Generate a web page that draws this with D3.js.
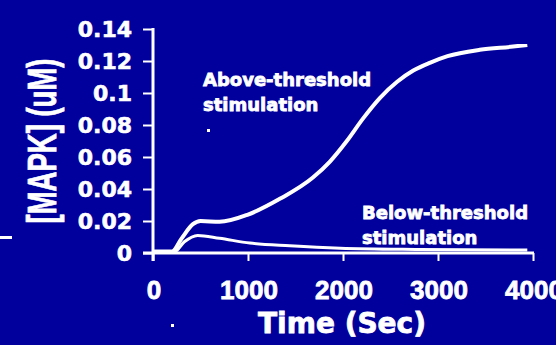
<!DOCTYPE html>
<html>
<head>
<meta charset="utf-8">
<script src="https://cdn.jsdelivr.net/npm/d3@7/dist/d3.min.js"></script>
<style>
  html, body { margin: 0; padding: 0; background: #02009C; }
  svg { display: block; }
</style>
</head>
<body>
<svg id="chart" width="556" height="345"></svg>
<script>
// ---- data ----
const aboveTime  = [0, 200, 300, 420, 500, 700, 1000, 1340, 1680, 1860, 2040, 2210, 2390, 2570, 2740, 2920, 3100, 3440, 3790, 3940];
const aboveValue = [0.001, 0.001, 0.009, 0.018, 0.0200, 0.0195, 0.024, 0.034, 0.047, 0.057, 0.070, 0.084, 0.097, 0.107, 0.114, 0.119, 0.123, 0.127, 0.129, 0.130];
const belowTime  = [0, 230, 330, 470, 700, 1020, 1440, 1970, 2800, 3940];
const belowValue = [0.001, 0.001, 0.007, 0.011, 0.0092, 0.0062, 0.0045, 0.003, 0.0022, 0.0018];
const xTicks = [0, 1000, 2000, 3000, 4000];
const yTicks = [0, 0.02, 0.04, 0.06, 0.08, 0.1, 0.12, 0.14];
const yTickLabels = ["0", "0.02", "0.04", "0.06", "0.08", "0.1", "0.12", "0.14"];
const xTitle = "Time (Sec)";
const yTitle = "[MAPK] (uM)";
const aboveLabel = ["Above-threshold", "stimulation"];
const belowLabel = ["Below-threshold", "stimulation"];

// ---- layout ----
const svg = d3.select("#chart");
const W = 556, H = 345;
svg.append("rect").attr("width", W).attr("height", H).attr("fill", "#02009C");

const x = d3.scaleLinear().domain([0, 4000]).range([153, 533]);
const y = d3.scaleLinear().domain([0, 0.14]).range([253, 29]);
const white = "#ffffff";

// axes lines
const xAxis = d3.axisBottom(x).tickValues(xTicks).tickSize(8).tickFormat("");
const gx = svg.append("g").attr("transform", `translate(0,${y(0)})`).call(xAxis);
gx.select(".domain").remove();
gx.selectAll(".tick line").attr("stroke", white).attr("stroke-width", 2);
svg.append("line").attr("x1", 143).attr("x2", x(4000) + 1).attr("y1", y(0)).attr("y2", y(0))
  .attr("stroke", white).attr("stroke-width", 3);

const yAxis = d3.axisLeft(y).tickValues(yTicks).tickSize(10).tickFormat("");
const gy = svg.append("g").attr("transform", `translate(${x(0)},0)`).call(yAxis);
gy.select(".domain").remove();
gy.selectAll(".tick line").attr("stroke", white).attr("stroke-width", 2);
svg.append("line").attr("x1", x(0)).attr("x2", x(0)).attr("y1", y(0.14) - 1).attr("y2", y(0) + 8)
  .attr("stroke", white).attr("stroke-width", 3);

// tick labels
svg.append("g").selectAll("text").data(yTicks).join("text")
  .attr("x", 132).attr("y", d => y(d) + 8)
  .attr("text-anchor", "end")
  .attr("font-family", "DejaVu Sans").attr("font-weight", "bold").attr("font-size", 22)
  .attr("fill", white).attr("stroke", white).attr("stroke-width", 0.6)
  .text((d, i) => yTickLabels[i]);

svg.append("g").selectAll("text").data(xTicks).join("text")
  .attr("x", d => x(d) + 1).attr("y", 299)
  .attr("text-anchor", "middle")
  .attr("font-family", "Liberation Sans").attr("font-weight", "bold").attr("font-size", 26)
  .attr("fill", white).attr("stroke", white).attr("stroke-width", 0.8)
  .text(d => String(d));

// titles
svg.append("text").attr("x", 342).attr("y", 333).attr("text-anchor", "middle")
  .attr("font-family", "DejaVu Sans").attr("font-weight", "bold").attr("font-size", 28)
  .attr("fill", white).attr("stroke", white).attr("stroke-width", 0.8).text(xTitle);

svg.append("text").attr("transform", "translate(56,141) rotate(-90)").attr("text-anchor", "middle")
  .attr("font-family", "Liberation Sans").attr("font-weight", "bold").attr("font-size", 40)
  .attr("textLength", 165).attr("lengthAdjust", "spacingAndGlyphs")
  .attr("fill", white).attr("stroke", white).attr("stroke-width", 0.8).text(yTitle);

// curves
const line = d3.line().x(d => x(d[0])).y(d => y(d[1])).curve(d3.curveMonotoneX);
const below = belowTime.map((t, i) => [t, belowValue[i]]);
const above = aboveTime.map((t, i) => [t, aboveValue[i]]);
svg.append("path").attr("d", line(below)).attr("fill", "none").attr("stroke", white).attr("stroke-width", 3);
svg.append("path").attr("d", line(above)).attr("fill", "none").attr("stroke", white).attr("stroke-width", 4);

// annotations
const ann = (lines, x0, y0) => {
  svg.append("g").selectAll("text").data(lines).join("text")
    .attr("x", x0).attr("y", (d, i) => y0 + i * 25)
    .attr("font-family", "DejaVu Sans").attr("font-weight", "bold").attr("font-size", 18)
    .attr("fill", white).attr("stroke", white).attr("stroke-width", 0.8).text(d => d);
};
ann(aboveLabel, 203, 86);
ann(belowLabel, 362, 219);

// small artefacts of the original slide
svg.append("rect").attr("x", 0).attr("y", 236).attr("width", 12).attr("height", 3).attr("fill", white);
svg.append("rect").attr("x", 207).attr("y", 129).attr("width", 3).attr("height", 3).attr("fill", white);
svg.append("rect").attr("x", 171).attr("y", 324).attr("width", 3).attr("height", 3).attr("fill", white);
</script>
</body>
</html>
